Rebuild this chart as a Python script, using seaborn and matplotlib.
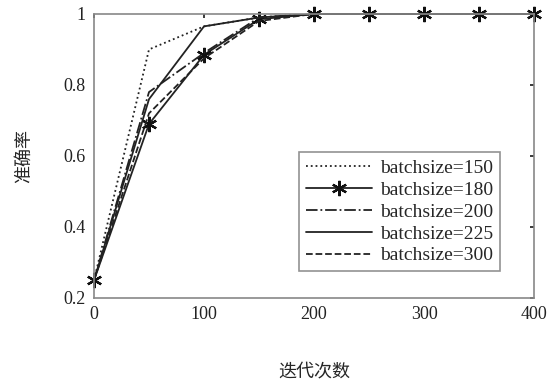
import matplotlib
matplotlib.use('Agg')
import matplotlib.pyplot as plt
import seaborn as sns
import pandas as pd

# iterations and accuracy per batch size
iters = [0, 50, 100, 150, 200, 250, 300, 350, 400]
acc_150 = [0.25, 0.90, 0.965, 0.99, 1.0, 1.0, 1.0, 1.0, 1.0]
acc_180 = [0.25, 0.69, 0.885, 0.985, 1.0, 1.0, 1.0, 1.0, 1.0]
acc_200 = [0.25, 0.78, 0.89, 0.99, 1.0, 1.0, 1.0, 1.0, 1.0]
acc_225 = [0.25, 0.76, 0.965, 0.99, 1.0, 1.0, 1.0, 1.0, 1.0]
acc_300 = [0.25, 0.72, 0.875, 0.98, 1.0, 1.0, 1.0, 1.0, 1.0]
labels = ["batchsize=150", "batchsize=180", "batchsize=200", "batchsize=225", "batchsize=300"]
xticks = [0, 100, 200, 300, 400]
yticks = [0.2, 0.4, 0.6, 0.8, 1.0]
ytick_labels = ["0.2", "0.4", "0.6", "0.8", "1"]

sns.set_theme(style="white")
plt.rcParams['font.family'] = ['Liberation Serif', 'Noto Sans CJK SC']

fig = plt.figure(figsize=(5.54, 3.85), dpi=100)
ax = fig.add_axes([0.1697, 0.226, 0.7942, 0.7378])

styles = [
    dict(linestyle=':', marker=None),
    dict(linestyle='-', marker=(6, 2, 0), markersize=11, markeredgecolor='#111111',
         markerfacecolor='#111111', markeredgewidth=1.6, clip_on=False),
    dict(linestyle='-.', marker=None),
    dict(linestyle='-', marker=None),
    dict(linestyle='--', marker=None),
]
series = [acc_150, acc_180, acc_200, acc_225, acc_300]
for vals, lab, st in zip(series, labels, styles):
    df = pd.DataFrame({"iter": iters, "acc": vals})
    sns.lineplot(data=df, x="iter", y="acc", ax=ax, color='#222222',
                 linewidth=1.3, label=lab, **st)

ax.set_xlim(0, 400)
ax.set_ylim(0.2, 1.0)
ax.set_xticks(xticks)
ax.set_xticklabels([str(t) for t in xticks])
ax.set_yticks(yticks)
ax.set_yticklabels(ytick_labels)
ax.tick_params(direction='in', length=3, labelsize=13, colors='#222222',
               top=True, right=True, pad=6)
for sp in ax.spines.values():
    sp.set_color('#888888')
    sp.set_linewidth(1.2)

ax.set_xlabel("迭代次数", fontsize=13, family=['Noto Sans CJK SC'], labelpad=28)
ax.set_ylabel("准确率", fontsize=13, family=['Noto Sans CJK SC'], labelpad=22)

leg = ax.legend(loc='lower right', bbox_to_anchor=(0.945, 0.06), fontsize=14,
                frameon=True, fancybox=False, handlelength=3.4,
                borderpad=0.35, labelspacing=0.22, handletextpad=0.4)
leg.get_frame().set_edgecolor('#777777')
leg.get_frame().set_linewidth(1.2)

fig.savefig("out.png", dpi=100)
